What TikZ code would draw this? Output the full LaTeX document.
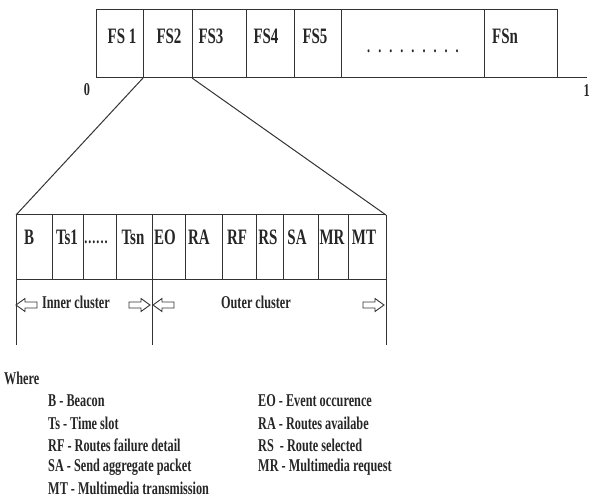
\documentclass[tikz,border=0pt]{standalone}
\usepackage{fontspec}
\newfontfamily\cf[FakeStretch=0.68]{Liberation Serif}
\begin{document}
\begin{tikzpicture}[x=1pt,y=-1pt,
  ln/.style={line width=1pt,draw=black!80},
  big/.style={font=\cf\bfseries\fontsize{22}{24}\selectfont,inner sep=0pt,text=black!85},
  mid/.style={font=\cf\bfseries\fontsize{18}{20}\selectfont,inner sep=0pt,text=black!85},
  leg/.style={mid,anchor=west},
  harrow/.pic={\draw[line width=0.9pt,draw=black!80] (0,0) -- (9,-6.5) -- (9,-3) -- (21,-3) -- (21,3) -- (9,3) -- (9,6.5) -- cycle;}
]
\useasboundingbox (0,0) rectangle (590,500);
% top frame
\draw[ln] (96,10) rectangle (557,78);
\draw[ln] (96,78) -- (587,78);
\foreach \x in {143,192,246,294,341,484} \draw[ln] (\x,10) -- (\x,78);
\coordinate (a1) at (143,78);
\coordinate (a2) at (192,78);
\node[big] (fs1) at (122,36) {FS 1};
\node[big] (fs2) at (169,36) {FS2};
\node[big] (fs3) at (211,36) {FS3};
\node[big] (fs4) at (266,36) {FS4};
\node[big] (fs5) at (315,36) {FS5};
\node[mid] (dots) at (413,51) {.\hspace{8pt}.\hspace{8pt}.\hspace{8pt}.\hspace{8pt}.\hspace{8pt}.\hspace{8pt}.\hspace{8pt}.\hspace{8pt}.};
\node[big] (fsn) at (505,36) {FSn};
\node[mid] (zero) at (87,90) {0};
\node[mid,anchor=east] (one) at (590,91) {1};
% expanded slot
\draw[ln] (16,215) -- (386,215);
\draw[ln] (16,280) -- (386,280);
\draw[ln] (16,215) -- (16,345);
\draw[ln] (152,215) -- (152,345);
\draw[ln] (386,215) -- (386,345);
\foreach \x in {52,83,116,185,222,256,283,318,348} \draw[ln] (\x,215) -- (\x,280);
\coordinate (b1) at (16,215);
\coordinate (b2) at (386,215);
\draw[ln] (a1) -- (b1);
\draw[ln] (a2) -- (b2);
\node[big] (lB) at (29,237) {B};
\node[big] (lTs1) at (67,237) {Ts1};
\node[mid] (ldots) at (96,242) {.\hspace{1pt}.\hspace{1pt}.\hspace{1pt}.\hspace{1pt}.\hspace{1pt}.};
\node[big] (lTsn) at (133,237) {Tsn};
\node[big] (lEO) at (165,237) {EO};
\node[big] (lRA) at (199,237) {RA};
\node[big] (lRF) at (237,237) {RF};
\node[big] (lRS) at (268,237) {RS};
\node[big] (lSA) at (297,237) {SA};
\node[big] (lMR) at (332,237) {MR};
\node[big] (lMT) at (364,237) {MT};
% cluster arrows
\pic at (16,305) {harrow};
\pic[rotate=180] at (150,305) {harrow};
\pic at (153,305) {harrow};
\pic[rotate=180] at (384,305) {harrow};
\node[mid] (inner) at (76,302) {Inner cluster};
\node[mid] (outer) at (256,302) {Outer cluster};
% legend
\node[leg] (where) at (4,378) {Where};
\node[leg] (g1) at (48,401) {B - Beacon};
\node[leg] (g2) at (48,423) {Ts - Time slot};
\node[leg] (g3) at (48,445) {RF - Routes failure detail};
\node[leg] (g4) at (48,467) {SA - Send aggregate packet};
\node[leg] (g5) at (48,488) {MT - Multimedia transmission};
\node[leg] (h1) at (258,401) {EO - Event occurence};
\node[leg] (h2) at (258,423) {RA - Routes availabe};
\node[leg] (h3) at (258,445) {RS \ - Route selected};
\node[leg] (h4) at (258,467) {MR - Multimedia request};
\end{tikzpicture}
\end{document}
